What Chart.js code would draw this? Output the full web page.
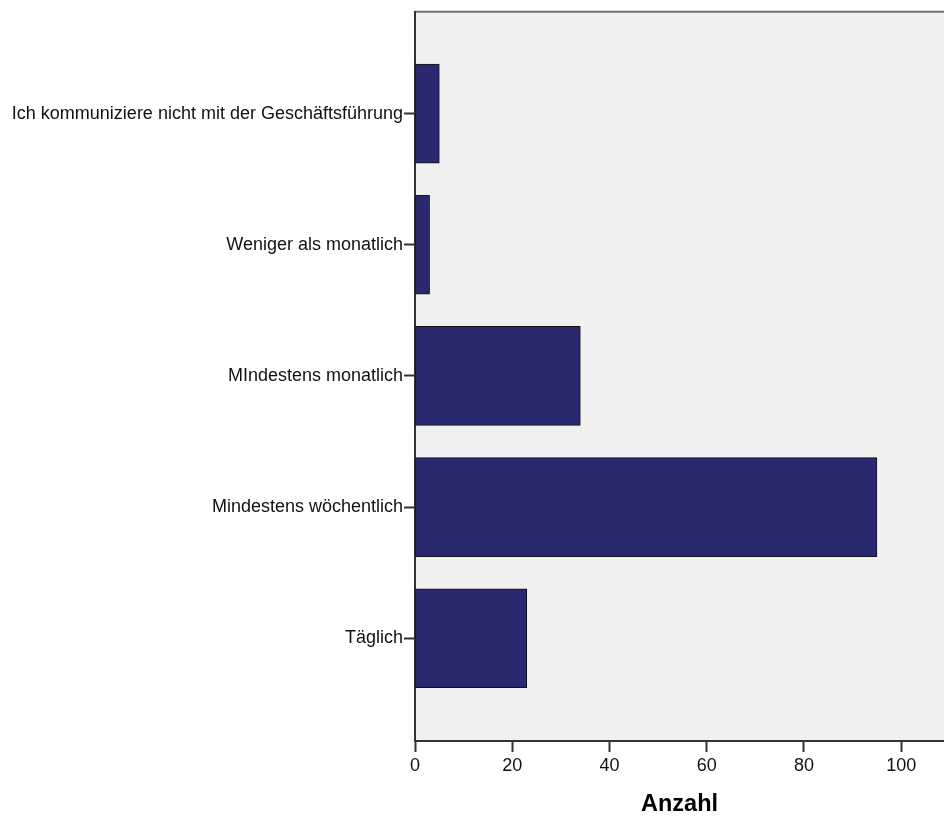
<!DOCTYPE html>
<html>
<head>
<meta charset="utf-8">
<script src="https://cdn.jsdelivr.net/npm/chart.js@4/dist/chart.umd.min.js"></script>
<style>
  html, body { margin: 0; padding: 0; background: #ffffff; }
  #wrap { width: 944px; height: 816px; position: relative; }
</style>
</head>
<body>
<div id="wrap"><canvas id="myChart"></canvas></div>
<script>
// Kategorien von oben nach unten
const CATEGORIES = [
  "Ich kommuniziere nicht mit der Geschäftsführung",
  "Weniger als monatlich",
  "MIndestens monatlich",
  "Mindestens wöchentlich",
  "Täglich",
];

// Anzahl je Kategorie
const COUNTS = [5, 3, 34, 95, 23];

// Achsenbeschriftungen der x-Achse
const X_TICKS = [0, 20, 40, 60, 80, 100];
const X_TITLE = "Anzahl";

const FONT = "'Liberation Sans', Arial, sans-serif";

// Hintergrund und Rahmen der Zeichenfläche
const plotFrame = {
  id: "plotFrame",
  beforeDraw: (chart) => {
    const { ctx, chartArea: a } = chart;
    ctx.save();
    ctx.fillStyle = "#f0f0f0";
    ctx.fillRect(a.left, a.top, a.right - a.left, a.bottom - a.top);
    ctx.strokeStyle = "#707070";
    ctx.lineWidth = 2;
    ctx.beginPath();
    ctx.moveTo(a.left, a.top);
    ctx.lineTo(a.right, a.top);
    ctx.stroke();
    ctx.restore();
  },
};

const ctx = document.getElementById("myChart").getContext("2d");

new Chart(ctx, {
  type: "bar",
  data: {
    datasets: [
      {
        label: X_TITLE,
        data: COUNTS.map((v, i) => ({ x: v, y: i })),
        backgroundColor: "#28296f",
        borderColor: "#111111",
        borderWidth: 1,
        borderSkipped: false,
        barThickness: 99,
      },
    ],
  },
  options: {
    indexAxis: "y",
    responsive: true,
    maintainAspectRatio: false,
    animation: false,
    events: [],
    layout: { padding: { top: 10, right: 0, left: 0, bottom: 0 } },
    plugins: {
      legend: { display: false },
      tooltip: { enabled: false },
    },
    scales: {
      x: {
        type: "linear",
        min: 0,
        max: 108.8,
        afterFit: (scale) => {
          scale.height = 75;
        },
        afterBuildTicks: (scale) => {
          scale.ticks = X_TICKS.map((v) => ({ value: v }));
        },
        border: { display: true, color: "#333333", width: 2 },
        grid: {
          display: true,
          drawOnChartArea: false,
          drawTicks: true,
          tickLength: 11,
          tickWidth: 2,
          tickColor: "#333333",
        },
        ticks: {
          color: "#111111",
          padding: 3,
          maxRotation: 0,
          autoSkip: false,
          font: { family: FONT, size: 18 },
        },
        title: {
          display: true,
          text: X_TITLE,
          color: "#000000",
          padding: { top: 0, bottom: 0 },
          font: { family: FONT, size: 23.5, weight: "bold", lineHeight: 1 },
        },
      },
      y: {
        type: "linear",
        reverse: true,
        offset: false,
        min: -0.776,
        max: 4.783,
        afterFit: (scale) => {
          scale.width = 415;
        },
        afterBuildTicks: (scale) => {
          scale.ticks = CATEGORIES.map((_, i) => ({ value: i }));
        },
        border: { display: true, color: "#333333", width: 2 },
        grid: {
          display: true,
          offset: false,
          drawOnChartArea: false,
          drawTicks: true,
          tickLength: 11,
          tickWidth: 2,
          tickColor: "#333333",
        },
        ticks: {
          color: "#111111",
          padding: 1,
          autoSkip: false,
          font: { family: FONT, size: 18 },
          callback: (value) => CATEGORIES[value],
        },
      },
    },
  },
  plugins: [plotFrame],
});
</script>
</body>
</html>
